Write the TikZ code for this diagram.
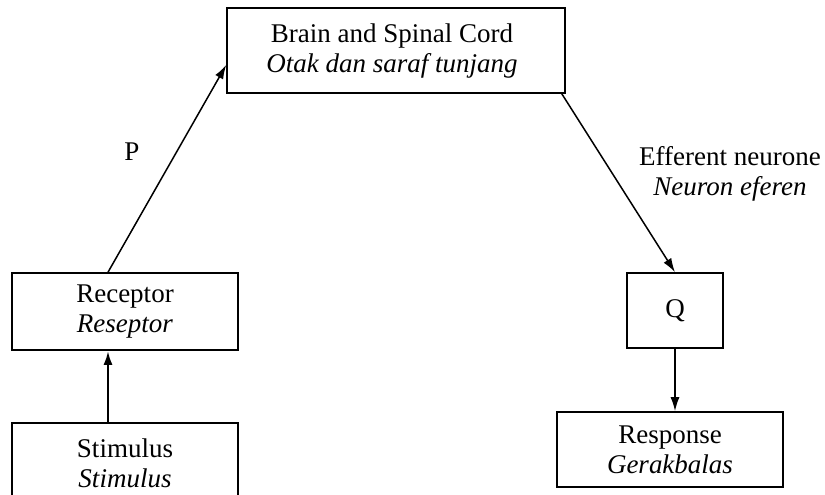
\documentclass[tikz,border=0pt]{standalone}
\usepackage{fontspec}
\setmainfont{Liberation Serif}
\usetikzlibrary{arrows.meta}
\begin{document}
\begin{tikzpicture}[x=1pt,y=1pt,
  box/.style={draw, line width=1.6pt, inner sep=0pt, align=center, font=\fontsize{27}{30}\selectfont},
  lbl/.style={align=center, font=\fontsize{27}{30}\selectfont, inner sep=0pt},
  arr/.style={-{Latex[length=14pt,width=9pt]}, line width=1.5pt}]
\useasboundingbox (0,0) rectangle (825,-495);
\clip (0,0) rectangle (825,-495);
\node[box, minimum width=338pt, minimum height=85pt] (brain) at (396,-50.5) {};
\node[lbl] (braintext) at (392,-51) {Brain and Spinal Cord\\\textit{Otak dan saraf tunjang}};
\node[box, minimum width=226pt, minimum height=77pt] (receptor) at (125,-311.5) {Receptor\\\textit{Reseptor}};
\node[box, minimum width=226pt, minimum height=80pt, anchor=north] (stimulus) at (125,-422) {Stimulus\\\textit{Stimulus}};
\node[box, minimum width=96pt, minimum height=75pt] (Q) at (675,-310.5) {Q};
\node[box, minimum width=226pt, minimum height=75pt] (response) at (670,-449.5) {Response\\\textit{Gerakbalas}};
\node[lbl] (P) at (132,-152) {P};
\node[lbl] (eff) at (730,-174) {Efferent neurone\\\textit{Neuron eferen}};
\draw[arr] ([xshift=-17pt]receptor.north) -- ([yshift=-14.5pt]brain.west);
\draw[arr, line width=2.5pt] ([xshift=-17pt]stimulus.north) -- ([xshift=-17pt]receptor.south);
\draw[arr] ([xshift=-4pt]brain.south east) -- (Q.north);
\draw[arr] (Q.south) -- (Q.south |- response.north);
\end{tikzpicture}
\end{document}
